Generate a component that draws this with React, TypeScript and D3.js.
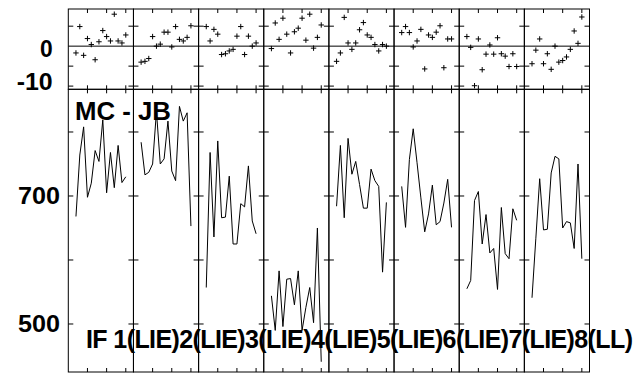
import React from 'react';
import * as d3 from 'd3';

// ---- data ----
const pointIndex = [2, 3, 4, 5, 6, 7, 8, 9, 10, 11, 12, 13, 14, 15];
const panelIds = ['1', '2', '3', '4', '5', '6', '7', '8'];

const resid1 = [-1.7, 4.9, -2.3, 1.9, 0.4, -3.4, 1.1, 3.9, 2.4, 1.3, 8.0, 1.3, 0.8, 2.8];
const resid2 = [-4.0, -3.8, -3.1, 2.4, 0.0, 0.5, 3.5, 3.5, -0.2, 4.9, 1.7, 1.3, 2.2, 5.1];
const resid3 = [4.9, 1.3, 4.2, 3.0, -2.1, -1.9, -1.2, -0.8, 2.5, 4.9, -2.1, 2.5, 0.0, 0.8];
const resid4 = [-0.6, 5.8, 1.7, 7.0, 3.0, -1.7, 3.6, 4.5, 7.0, 1.5, 8.0, -0.5, 2.2, 5.3];
const resid5 = [-3.8, -1.7, 7.2, 0.8, -0.8, 0.8, 4.1, 5.9, 2.8, 2.2, 0.4, -1.2, 0.4, 0.0];
const resid6 = [3.4, 4.9, 3.4, -0.2, 1.3, 4.2, -5.7, 2.8, 2.2, 3.5, 5.1, -5.4, 1.8, 1.8];
const resid7 = [2.4, -0.3, -9.9, 1.8, -5.9, -2.0, 0.3, -2.0, 2.1, -1.9, -2.5, -5.1, -1.9, -5.1];
const resid8 = [-4.4, -1.0, 1.8, -4.4, -1.9, -5.8, 0.0, -4.0, -3.6, -2.7, -0.8, 3.8, 0.7, 7.3];

const level1 = [668, 764, 808, 698, 720, 771, 754, 819, 705, 768, 713, 779, 721, 730];
const level2 = [784, 733, 737, 750, 832, 750, 758, 817, 739, 724, 840, 817, 830, 653];
const level3 = [557, 768, 636, 786, 666, 667, 731, 625, 625, 688, 683, 747, 661, 641];
const level4 = [544, 490, 583, 496, 570, 571, 530, 583, 490, 526, 557, 502, 650, 441];
const level5 = [684, 779, 666, 790, 734, 754, 718, 681, 681, 742, 724, 715, 581, 690];
const level6 = [715, 651, 757, 805, 752, 697, 644, 672, 717, 655, 660, 689, 726, 651];
const level7 = [555, 568, 693, 707, 625, 671, 611, 618, 554, 682, 610, 602, 680, 662];
const level8 = [541, 634, 727, 647, 648, 736, 762, 758, 650, 660, 658, 618, 750, 602];

const residuals = [resid1, resid2, resid3, resid4, resid5, resid6, resid7, resid8];
const levels = [level1, level2, level3, level4, level5, level6, level7, level8];

const topTicks = [-10, -5, 5];
const topTickLabels = ['0', '-10'];
const topTickLabelValues = [0, -10];
const bottomTicks = [500, 600, 700, 800];
const bottomTickLabels = ['700', '500'];
const bottomTickLabelValues = [700, 500];
const xTicks = [5, 10, 15];
const panelTitle = 'MC - JB';
const footer = 'IF 1(LIE)2(LIE)3(LIE)4(LIE)5(LIE)6(LIE)7(LIE)8(LL)';

// ---- layout ----
const W = 639;
const H = 373;
const left = 68.3;
const panelW = 65.15;
const top1 = 9;
const bot1 = 89.3;
const bot2 = 372;
const font = '"Liberation Sans", Arial, Helvetica, sans-serif';

export default function App() {
  const yTop = d3.scaleLinear().domain([-10.8, 9.3]).range([bot1, top1]);
  const yBot = d3.scaleLinear().domain([425, 866.7]).range([bot2, bot1]);
  const right = left + panelW * panelIds.length;

  return (
    <svg width={W} height={H} style={{ position: 'absolute', left: 0, top: 0, background: '#fff' }}>
      <rect x={0} y={0} width={W} height={H} fill="#fff" />
      {panelIds.map((id, i) => {
        const x0 = left + i * panelW;
        const x1 = x0 + panelW;
        const xs = d3.scaleLinear().domain([0, 17]).range([x0, x1]);
        const lineGen = d3
          .line<number>()
          .x((_, j) => xs(pointIndex[j]))
          .y((v) => yBot(v));
        return (
          <g key={id}>
            <rect x={x0} y={top1} width={panelW} height={bot1 - top1} fill="none" stroke="#000" strokeWidth={1} />
            <rect x={x0} y={bot1} width={panelW} height={bot2 - bot1} fill="none" stroke="#000" strokeWidth={1} />
            {xTicks.map((t) => (
              <g key={'xt' + t} stroke="#000" strokeWidth={1}>
                <line x1={xs(t)} x2={xs(t)} y1={top1} y2={top1 + 4} />
                <line x1={xs(t)} x2={xs(t)} y1={bot1} y2={bot1 - 4} />
                <line x1={xs(t)} x2={xs(t)} y1={bot1} y2={bot1 + 4} />
                <line x1={xs(t)} x2={xs(t)} y1={bot2} y2={bot2 - 4} />
              </g>
            ))}
            {topTicks.map((t) => (
              <g key={'yt' + t} stroke="#000" strokeWidth={1}>
                <line x1={x0} x2={x0 + 5} y1={yTop(t)} y2={yTop(t)} />
                <line x1={x1} x2={x1 - 5} y1={yTop(t)} y2={yTop(t)} />
              </g>
            ))}
            {bottomTicks.map((t) => (
              <g key={'yb' + t} stroke="#000" strokeWidth={1}>
                <line x1={x0} x2={x0 + 5} y1={yBot(t)} y2={yBot(t)} />
                <line x1={x1} x2={x1 - 5} y1={yBot(t)} y2={yBot(t)} />
              </g>
            ))}
            {residuals[i].map((v, j) => {
              const cx = xs(pointIndex[j]);
              const cy = yTop(v);
              return (
                <path
                  key={'p' + j}
                  d={`M${cx - 2.7},${cy}h5.4M${cx},${cy - 2.7}v5.4`}
                  stroke="#000"
                  strokeWidth={1}
                  fill="none"
                />
              );
            })}
            <path d={lineGen(levels[i]) || ''} fill="none" stroke="#000" strokeWidth={1} />
          </g>
        );
      })}
      <line x1={left} x2={right} y1={yTop(0)} y2={yTop(0)} stroke="#000" strokeWidth={1} />

      {topTickLabels.map((lab, k) => (
        <text
          key={'tl' + k}
          x={52.7}
          y={k === 0 ? 57 : 90}
          textAnchor="end"
          fontFamily={font}
          fontWeight="bold"
          fontSize={23}
          fill="#000"
          textLength={k === 0 ? 12.7 : 36}
          lengthAdjust="spacingAndGlyphs"
        >
          {lab}
        </text>
      ))}
      {bottomTickLabels.map((lab, k) => (
        <text
          key={'bl' + k}
          x={60}
          y={yBot(bottomTickLabelValues[k]) + 8.5}
          textAnchor="end"
          fontFamily={font}
          fontWeight="bold"
          fontSize={23}
          fill="#000"
          textLength={42}
          lengthAdjust="spacingAndGlyphs"
        >
          {lab}
        </text>
      ))}

      <text x={75} y={119.5} fontFamily={font} fontWeight="bold" fontSize={25} fill="#000" textLength={96} lengthAdjust="spacingAndGlyphs">
        {panelTitle}
      </text>
      <text x={86} y={348.3} fontFamily={font} fontWeight="bold" fontSize={25} fill="#000" textLength={547} lengthAdjust="spacing">
        {footer}
      </text>
    </svg>
  );
}
